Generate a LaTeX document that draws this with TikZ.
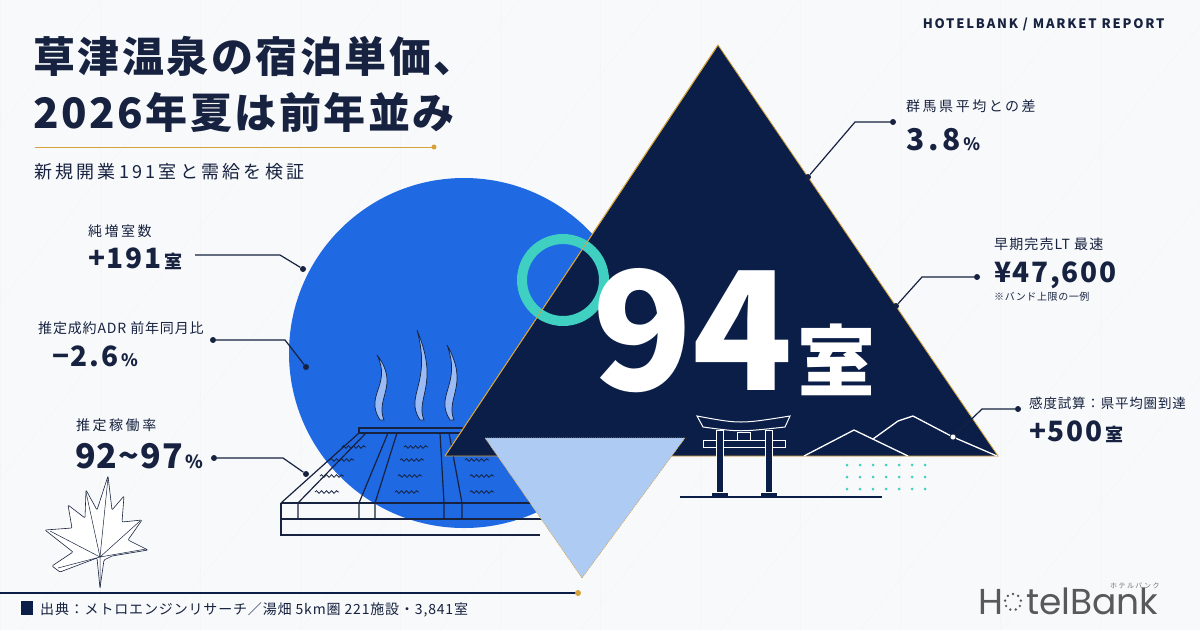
\documentclass[tikz,border=0pt]{standalone}
\usepackage{fontspec}
\setmainfont{Noto Sans CJK JP}
\newfontfamily\logofont{Poppins}
\newcommand{\ls}[1]{\addfontfeature{LetterSpace=#1}}
\usetikzlibrary{decorations.pathmorphing}
\definecolor{navy}{HTML}{0B1E48}
\definecolor{ink}{HTML}{16223F}
\definecolor{blu}{HTML}{1F69E3}
\definecolor{lblu}{HTML}{AECBF4}
\definecolor{teal}{HTML}{3FD0C2}
\definecolor{gold}{HTML}{D6A23C}
\definecolor{bg}{HTML}{F8F9FB}
\tikzset{
 lab/.style={anchor=base west,text=ink,font=\fontsize{14}{14}\selectfont\ls{18},inner sep=0},
 big/.style={anchor=base west,text=ink,font=\fontsize{28}{28}\selectfont\bfseries\ls{6},inner sep=0},
 lead/.style={draw=ink,line width=1.2pt},
 dot/.style={circle,fill=ink,inner sep=0,minimum size=6pt},
 wdot/.style={circle,fill=white,draw=ink,line width=0.6pt,inner sep=0,minimum size=6pt},
 wline/.style={draw=white,line width=1.3pt},
 bath/.style={draw=ink,line width=1.2pt},
 wave/.style={draw=ink,line width=0.8pt,decorate,decoration={snake,amplitude=1.3pt,segment length=5pt}}
}
\begin{document}
\begin{tikzpicture}[x=1pt,y=-1pt]
\fill[bg] (0,0) rectangle (1200,630);
\useasboundingbox (0,0) rectangle (1200,630);
% faint grid
\foreach \i in {0,...,12}{\draw[black!4] (\i*100,0) -- (\i*100,630);}
\foreach \i in {0,...,10}{\draw[black!4] (\i*140-400,630) -- (\i*140+100,0);}
% header
\node[anchor=north east,text=ink,font=\fontsize{13}{13}\selectfont\bfseries\ls{14}] (hdr) at (1168,14) {HOTELBANK / MARKET REPORT};
% title
\node[anchor=base west,text=ink,font=\fontsize{42}{42}\selectfont\bfseries\ls{6},inner sep=0] (t1) at (33,72) {草津温泉の宿泊単価、};
\node[anchor=base west,text=ink,font=\fontsize{42}{42}\selectfont\bfseries\ls{6},inner sep=0] (t2) at (33,128) {2026年夏は前年並み};
\coordinate (g1) at (35,147); \coordinate (g2) at (434,147);
\draw[gold,line width=0.8pt] (g1) -- (g2); \fill[gold] (g2) circle (2.5);
\node[anchor=base west,text=ink,font=\fontsize{18}{18}\selectfont\ls{18},inner sep=0] (sub) at (34,178) {新規開業191室と需給を検証};
% circle
\fill[blu] (464,353) circle (175);
% bath
\begin{scope}
\draw[bath] (359,428) -- (525,428) -- (525,433) -- (359,433) -- cycle;
\draw[bath] (281,503) -- (545,503);
\draw[bath] (281,503) -- (281,535) -- (540,535);
\draw[bath] (281,519) -- (545,519);
\draw[bath] (359,433) -- (281,503);
\draw[bath] (366,433) -- (298,503) -- (298,519);
\draw[bath] (388,433) -- (359,503) -- (359,519);
\draw[bath] (397,433) -- (375,503) -- (375,519);
\draw[bath] (440,433) -- (444,503) -- (444,519);
\draw[bath] (449,433) -- (462,503) -- (462,519);
\draw[bath] (500,433) -- (540,503);
\foreach \x/\y in {315/492,320/476,330/460,342/447,395/492,398/476,400/460,404/447,470/492,470/476,465/460,462/447}{\draw[wave] (\x,\y) -- ++(24,0);}
\end{scope}
% steam
\foreach \x/\h in {380/65,420/90,450/75}{
 \fill[blu!45!white,draw=ink,line width=0.7pt] (\x,420) .. controls (\x-16,395) and (\x+12,385) .. (\x-3,420-\h) .. controls (\x+20,385) and (\x-5,398) .. (\x+4,420) -- cycle;}
% dark triangle
\fill[navy,draw=gold,line width=0.8pt] (718,45) -- (998,456) -- (445,456) -- cycle;
% light triangle
\fill[lblu,draw=gold,line width=0.6pt,dash pattern=on 1pt off 1pt] (485,438) -- (685,438) -- (582,578) -- cycle;
% teal ring
\draw[teal,line width=10pt] (563,280) circle (41);
\draw[gold,line width=0.8pt] (718,45) -- (445,456);
% 94
\node[anchor=base west,text=white,font=\fontsize{165}{165}\selectfont\bfseries,inner sep=0] (n94) at (592,390) {94};
\node[anchor=base west,text=white,font=\fontsize{78}{78}\selectfont\bfseries,inner sep=0] (room) at (797,390) {室};
% torii
\begin{scope}[draw=white,fill=navy,line width=1pt]
\filldraw (697,416) .. controls (740,424) .. (790,416) -- (785,427) .. controls (740,432) .. (703,427) -- cycle;
\filldraw (703,440) rectangle (785,447);
\filldraw (737,432) rectangle (750,440);
\filldraw (716,430) rectangle (723,492);
\filldraw (765,430) rectangle (772,492);
\filldraw (711,492) rectangle (728,497);
\filldraw (760,492) rectangle (777,497);
\end{scope}
\draw[navy,line width=1.2pt] (680,497) -- (882,497);
% mountains
\draw[wline] (804,456) -- (854,430) -- (908,456);
\draw[wline] (873,439) -- (898,421) -- (913,416) -- (953,437) -- (997,456);
% dots grid
\foreach \i in {0,...,6}\foreach \j in {0,...,2}{\fill[teal] (847+\i*13,465+\j*12) circle (1.5);}
% left callouts
\node[lab] (l1) at (88,236) {純増室数};
\node[big] (v1) at (88,268) {+191{\fontsize{18}{18}\selectfont\,室}};
\coordinate (a1) at (195,255); \coordinate (b1) at (280,255);
\node[dot] (d1) at (303,269) {};
\draw[lead] (a1) -- (b1) -- (d1);
\node[lab,font=\fontsize{14}{14}\selectfont\ls{6}] (l2) at (38,333) {推定成約ADR 前年同月比};
\node[big] (v2) at (52,366) {−2.6{\fontsize{17}{17}\selectfont\,\%}};
\node[dot] (s2) at (213,340) {};
\coordinate (b2) at (285,340);
\node[dot] (d2) at (306,367) {};
\draw[lead] (s2) -- (b2) -- (d2);
\node[lab] (l3) at (76,430) {推定稼働率};
\node[big,font=\fontsize{34}{34}\selectfont\bfseries\ls{3}] (v3) at (75,468) {92\textasciitilde97{\fontsize{18}{18}\selectfont\,\%}};
\node[dot] (s3) at (214,458) {};
\coordinate (b3) at (283,458);
\node[dot] (d3) at (306,474) {};
\draw[lead] (s3) -- (b3) -- (d3);
% right callouts
\node[lab] (r1) at (906,111) {群馬県平均との差};
\node[big,font=\fontsize{30}{30}\selectfont\bfseries\ls{12}] (w1) at (906,150) {3.8{\fontsize{17}{17}\selectfont\,\%}};
\node[dot] (e1) at (808,177) {};
\coordinate (f1) at (855,122);
\node[dot] (g1d) at (893,122) {};
\draw[lead] (e1) -- (f1) -- (g1d);
\node[lab,font=\fontsize{14}{14}\selectfont\ls{8}] (r2) at (994,249) {早期完売LT 最速};
\node[big] (w2) at (994,282) {¥47,600};
\node[anchor=base west,text=ink,font=\fontsize{10}{10}\selectfont\ls{6},inner sep=0] (w2n) at (994,300) {※バンド上限の一例};
\node[dot] (e2) at (896,306) {};
\coordinate (f2) at (922,277);
\node[dot] (g2d) at (977,277) {};
\draw[lead] (e2) -- (f2) -- (g2d);
\node[lab,font=\fontsize{13.5}{13.5}\selectfont\ls{6}] (r3) at (1029,408) {感度試算：県平均圏到達};
\node[big] (w3) at (1029,441) {+500{\fontsize{18}{18}\selectfont\,室}};
\node[wdot] (mdot) at (953,437) {};
\coordinate (f3) at (982,409);
\node[dot] (g3d) at (1018,409) {};
\draw[lead] (mdot) -- (f3) -- (g3d);
% maple leaf
\draw[ink,line width=0.6pt,fill=white,rounded corners=1pt] (100,588) -- (97,558) -- (60,572) -- (52,566) -- (73,552) -- (45,530) -- (72,528) -- (68,505) -- (85,518) -- (86,490) -- (97,510) -- (108,476) -- (112,510) -- (124,496) -- (122,522) -- (142,520) -- (128,540) -- (148,550) -- (112,556) -- (104,560) -- cycle;
\draw[ink,line width=0.5pt] (100,588) -- (100,557) (100,557) -- (58,568) (100,557) -- (50,531) (100,557) -- (86,492) (100,557) -- (108,478) (100,557) -- (140,521) (100,557) -- (146,549);
% footer
\coordinate (fl) at (0,593); \coordinate (fr) at (578,593);
\draw[navy,line width=1.3pt] (fl) -- (fr); \fill[gold] (fr) circle (3);
\fill[navy] (21,601) rectangle (33,615);
\node[anchor=base west,text=ink,font=\fontsize{14}{14}\selectfont\ls{6},inner sep=0] (src) at (40,614) {出典：メトロエンジンリサーチ／湯畑 5km圏 221施設・3,841室};
% logo
\node[anchor=base west,text=black!65,font=\logofont\fontsize{36}{36}\selectfont\mdseries,inner sep=0] (logo) at (978,614) {H\phantom{o}telBank};
\foreach \a in {30,70,...,350}{\fill[black!65] ({1013+8*cos(\a)},{602+8*sin(\a)}) circle (1.3);}
\node[anchor=base west,text=black!55,font=\fontsize{7}{7}\selectfont\ls{20},inner sep=0] (kana) at (1110,588) {ホテルバンク};
\end{tikzpicture}
\end{document}
